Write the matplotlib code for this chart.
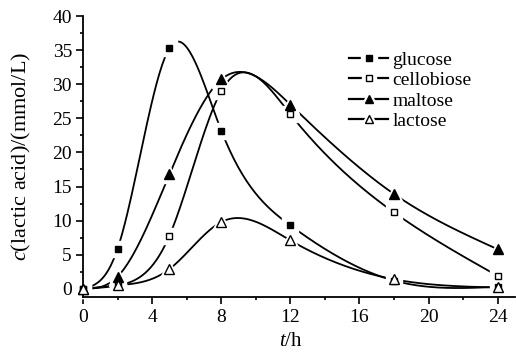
import numpy as np
import matplotlib
matplotlib.use("Agg")
import matplotlib.pyplot as plt
from matplotlib.lines import Line2D
from matplotlib.legend_handler import HandlerTuple

plt.rcParams['font.family'] = ['Liberation Serif', 'DejaVu Serif']
plt.rcParams['mathtext.fontset'] = 'custom'
plt.rcParams['mathtext.rm'] = 'Liberation Serif'
plt.rcParams['mathtext.it'] = 'Liberation Serif:italic'

# sampling times (h)
t = [0, 2, 5, 8, 12, 18, 24]

# lactic acid concentration (mmol/L)
glucose = [0.0, 5.9, 35.3, 23.2, 9.3, 1.2, 0.3]
cellobiose = [0.0, 0.5, 7.8, 29.0, 25.6, 11.2, 1.9]
maltose = [0.0, 1.8, 16.8, 30.7, 27.0, 13.9, 5.8]
lactose = [0.0, 0.5, 2.9, 9.8, 7.1, 1.4, 0.2]

names = ['glucose', 'cellobiose', 'maltose', 'lactose']
series = [glucose, cellobiose, maltose, lactose]
markers = ['s', 's', '^', '^']
msizes = [5, 4.5, 6.5, 6.5]
faces = ['black', 'white', 'black', 'white']


def natural_spline(x, y, n=300):
    # natural cubic spline through the points, for the smooth connecting line
    x = np.asarray(x, float)
    y = np.asarray(y, float)
    k = len(x)
    h = np.diff(x)
    A = np.zeros((k, k))
    b = np.zeros(k)
    A[0, 0] = A[-1, -1] = 1
    for i in range(1, k - 1):
        A[i, i - 1] = h[i - 1]
        A[i, i] = 2 * (h[i - 1] + h[i])
        A[i, i + 1] = h[i]
        b[i] = 6 * ((y[i + 1] - y[i]) / h[i] - (y[i] - y[i - 1]) / h[i - 1])
    M = np.linalg.solve(A, b)
    xs = np.linspace(x[0], x[-1], n)
    idx = np.clip(np.searchsorted(x, xs) - 1, 0, k - 2)
    x0, x1 = x[idx], x[idx + 1]
    hh = x1 - x0
    ys = (M[idx] * (x1 - xs) ** 3 + M[idx + 1] * (xs - x0) ** 3) / (6 * hh) \
        + (y[idx] / hh - M[idx] * hh / 6) * (x1 - xs) \
        + (y[idx + 1] / hh - M[idx + 1] * hh / 6) * (xs - x0)
    return xs, ys


fig = plt.figure(figsize=(5.16, 3.56), dpi=100)
ax = fig.add_axes([0.161, 0.167, 0.837, 0.788])

handles = []
for name, vals, m, ms, fc in zip(names, series, markers, msizes, faces):
    xs, ys = natural_spline(t, vals)
    ax.plot(xs, ys, color='black', lw=1.3, zorder=1, clip_on=False)
    ax.plot(t, vals, ls='none', marker=m, ms=ms + 7, mfc='white', mec='white',
            zorder=2, clip_on=False)
    ax.plot(t, vals, ls='none', marker=m, ms=ms, mfc=fc, mec='black', mew=1.0,
            zorder=3, clip_on=False)
    h_line = Line2D([], [], color='black', lw=1.6)
    h_gap = Line2D([], [], ls='none', marker=m, ms=ms + 6, mfc='white', mec='white')
    h_mark = Line2D([], [], ls='none', marker=m, ms=ms - 0.5, mfc=fc, mec='black', mew=1.0)
    handles.append((h_line, h_gap, h_mark))

ax.legend(handles, names, handler_map={tuple: HandlerTuple(ndivide=1, pad=0)},
          loc='upper left', bbox_to_anchor=(0.616, 0.875), frameon=False,
          fontsize=14, handlelength=2.0, handletextpad=0.22, labelspacing=0.15,
          borderaxespad=0, borderpad=0)

ax.set_xlim(0, 25)
ax.set_ylim(-1.13, 40)
ax.set_xticks(range(0, 25, 4))
ax.set_xticks(range(2, 25, 4), minor=True)
ax.set_yticks(range(0, 41, 5))
ax.set_yticks(np.arange(2.5, 40, 5), minor=True)
ax.spines['top'].set_visible(False)
ax.spines['right'].set_visible(False)
ax.spines['left'].set_linewidth(1.3)
ax.spines['bottom'].set_linewidth(1.3)
ax.tick_params(which='major', direction='out', length=5, width=1.2, labelsize=14, pad=3)
ax.tick_params(which='minor', direction='out', length=2.5, width=1.2)
ax.tick_params(axis='x', which='major', pad=4)

ax.set_xlabel(r'$\mathit{t}$/h', fontsize=15, labelpad=2)
ax.xaxis.set_label_coords(12 / 25, -0.125)
ax.set_ylabel(r'$\mathit{c}$(lactic acid)/(mmol/L)', fontsize=16)
ax.yaxis.set_label_coords(-0.115, 0.5)

fig.savefig('out.png', dpi=100)
